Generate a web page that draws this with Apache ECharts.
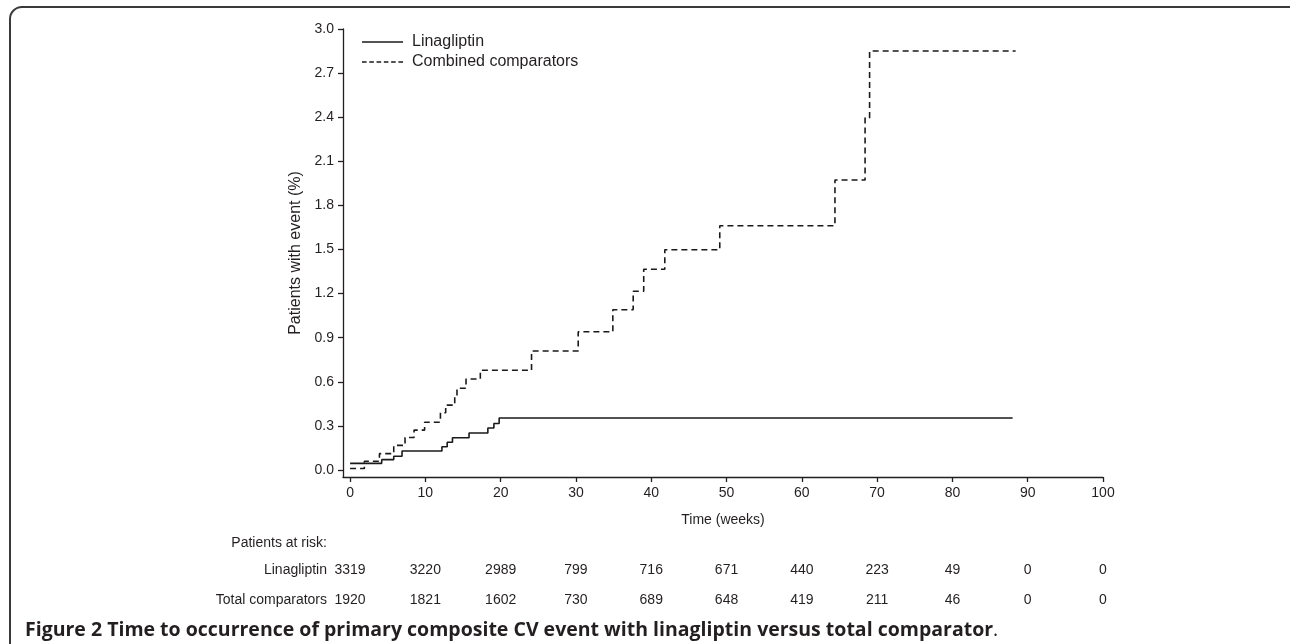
<!DOCTYPE html>
<html>
<head>
<meta charset="utf-8">
<script src="https://cdn.jsdelivr.net/npm/echarts@6/dist/echarts.min.js"></script>
<style>
html,body{margin:0;padding:0;background:#fff;}
#chart{width:1290px;height:644px;}
</style>
</head>
<body>
<div id="chart"></div>
<script>
// ---- data ----
const SERIES_NAMES = ['Linagliptin', 'Combined comparators'];
const X_TICKS = [0, 10, 20, 30, 40, 50, 60, 70, 80, 90, 100];
const Y_TICKS = [0, 0.3, 0.6, 0.9, 1.2, 1.5, 1.8, 2.1, 2.4, 2.7, 3.0];

const LINA_TIME = [0, 4.2, 5.8, 6.9, 12.2, 12.9, 13.6, 15.8, 18.3, 19.1, 19.8, 88];
const LINA_PCT  = [0.045, 0.07, 0.093, 0.129, 0.158, 0.188, 0.219, 0.251, 0.285, 0.316, 0.353, 0.353];

const COMP_TIME = [0, 1.9, 3.9, 5.8, 7.3, 8.5, 9.9, 12.0, 12.7, 13.9, 14.2, 15.4, 17.3, 24.1, 30.3, 34.9, 37.6, 39.0, 41.8, 49.1, 64.4, 68.4, 69.0, 88.4];
const COMP_PCT  = [0.01, 0.059, 0.111, 0.167, 0.221, 0.271, 0.325, 0.389, 0.441, 0.5, 0.556, 0.619, 0.678, 0.809, 0.94, 1.09, 1.216, 1.365, 1.498, 1.661, 1.973, 2.395, 2.85, 2.85];

const RISK_TITLE = 'Patients at risk:';
const RISK_ROWS = ['Linagliptin', 'Total comparators'];
const RISK_LINA = [3319, 3220, 2989, 799, 716, 671, 440, 223, 49, 0, 0];
const RISK_COMP = [1920, 1821, 1602, 730, 689, 648, 419, 211, 46, 0, 0];

const CAPTION_BOLD = 'Figure 2 Time to occurrence of primary composite CV event with linagliptin versus total comparator';
const X_NAME = 'Time (weeks)';
const Y_NAME = 'Patients with event (%)';

// ---- chart ----
const FONT = '"Liberation Sans", Arial, sans-serif';
const INK = '#231f20';
const LINE = '#1a1a1a';
const X_MIN = -0.94, X_MAX = 100, Y_MIN = -0.048, Y_MAX = 3;

function pairs(t, v) { return t.map((x, i) => [x, v[i]]); }

// legend icons: a solid bar and a dashed bar (drawn as paths)
const SOLID_ICON = 'path://M0,0H41V1.6H0Z';
let dashPath = 'path://';
for (let x = 0; x < 41; x += 7.3) { dashPath += 'M' + x.toFixed(1) + ',0h4.6v1.6h-4.6Z'; }
const DASH_ICON = dashPath;

function riskAxis(name, values, offset) {
  return {
    type: 'value', gridIndex: 0, position: 'bottom', offset: offset,
    min: X_MIN, max: X_MAX,
    axisLine: { show: false, onZero: false },
    axisTick: { show: false },
    splitLine: { show: false },
    axisLabel: {
      customValues: X_TICKS, margin: 0, verticalAlign: 'middle',
      formatter: v => String(values[X_TICKS.indexOf(v)]),
      fontFamily: FONT, fontSize: 14, color: INK
    },
    name: name, nameLocation: 'start', nameGap: 16,
    nameTextStyle: { fontFamily: FONT, fontSize: 14, color: INK, align: 'right', verticalAlign: 'middle' }
  };
}

const chart = echarts.init(document.getElementById('chart'), null, { renderer: 'canvas' });
chart.setOption({
  animation: false,
  backgroundColor: '#ffffff',
  title: {
    text: '{b|' + CAPTION_BOLD + '}{n|.}',
    left: 20, top: 615,
    textStyle: {
      rich: {
        b: { fontFamily: '"Open Sans", sans-serif', fontWeight: 'bold', fontSize: 19.5, color: INK },
        n: { fontFamily: '"Open Sans", sans-serif', fontWeight: 'normal', fontSize: 19.5, color: INK }
      }
    }
  },
  legend: {
    data: [
      { name: SERIES_NAMES[0], icon: SOLID_ICON },
      { name: SERIES_NAMES[1], icon: DASH_ICON }
    ],
    orient: 'vertical', left: 357, top: 29,
    itemWidth: 41, itemHeight: 1.6, itemGap: 4,
    textStyle: { fontFamily: FONT, fontSize: 16, color: INK, padding: [0, 0, 0, 4] }
  },
  grid: { left: 343, right: 187, top: 29, bottom: 167 },
  xAxis: [
    {
      type: 'value', gridIndex: 0, position: 'bottom',
      min: X_MIN, max: X_MAX,
      axisLine: { show: true, onZero: false, lineStyle: { color: INK, width: 1.3 } },
      axisTick: { show: true, length: 5, customValues: X_TICKS, lineStyle: { color: INK, width: 1.3 } },
      splitLine: { show: false },
      axisLabel: { customValues: X_TICKS, margin: 9, fontFamily: FONT, fontSize: 14, color: INK },
      name: X_NAME, nameLocation: 'middle', nameGap: 36,
      nameTextStyle: { fontFamily: FONT, fontSize: 14, color: INK }
    },
    riskAxis(RISK_ROWS[0], RISK_LINA, 93),
    riskAxis(RISK_ROWS[1], RISK_COMP, 123)
  ],
  yAxis: {
    type: 'value', min: Y_MIN, max: Y_MAX,
    axisLine: { show: true, onZero: false, lineStyle: { color: INK, width: 1.3 } },
    axisTick: { show: true, length: 5, customValues: Y_TICKS, lineStyle: { color: INK, width: 1.3 } },
    splitLine: { show: false },
    axisLabel: { customValues: Y_TICKS, margin: 9, formatter: v => v.toFixed(1), fontFamily: FONT, fontSize: 14, color: INK },
    name: Y_NAME, nameLocation: 'middle', nameGap: 36,
    nameTextStyle: { fontFamily: FONT, fontSize: 16, color: INK }
  },
  series: [
    {
      name: SERIES_NAMES[0], type: 'line', step: 'end', symbol: 'none',
      xAxisIndex: 0, data: pairs(LINA_TIME, LINA_PCT),
      lineStyle: { color: LINE, width: 1.6, type: 'solid' },
      itemStyle: { color: LINE }
    },
    {
      name: SERIES_NAMES[1], type: 'line', step: 'end', symbol: 'none',
      xAxisIndex: 0, data: pairs(COMP_TIME, COMP_PCT),
      lineStyle: { color: LINE, width: 1.6, type: [6, 4] },
      itemStyle: { color: LINE }
    }
  ],
  graphic: [
    {
      type: 'rect', silent: true,
      shape: { x: 10, y: 7, width: 1300, height: 660, r: 12 },
      style: { fill: 'none', stroke: '#3a3a3a', lineWidth: 2 }
    },
    {
      type: 'text', silent: true,
      style: { x: 327, y: 543, text: RISK_TITLE, align: 'right', verticalAlign: 'middle', fontFamily: FONT, fontSize: 14, fill: INK }
    }
  ]
});
</script>
</body>
</html>
